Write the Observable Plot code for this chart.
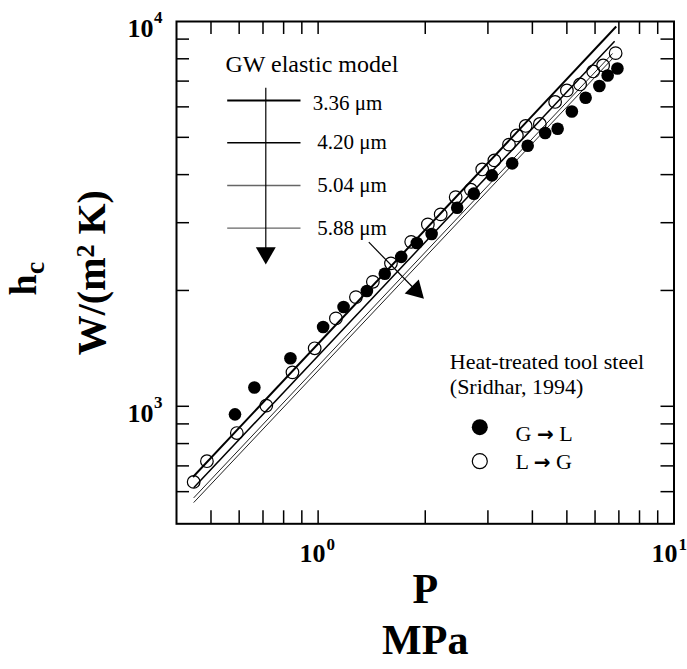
<!DOCTYPE html>
<html><head><meta charset="utf-8">
<script src="https://cdn.jsdelivr.net/npm/d3@7"></script>
<script src="https://cdn.jsdelivr.net/npm/@observablehq/plot@0.6"></script>
<style>body{margin:0;background:#fff} #chart svg{display:block}</style>
</head><body><div id="chart"></div>
<script>
// ---- data ----
const pressureOpen = [0.447,0.487,0.591,0.715,0.847,0.978,1.122,1.277,1.425,1.602,1.826,2.034,2.210,2.435,2.687,2.891,3.128,3.438,3.618,3.830,4.198,4.634,5.000,5.447,5.928,6.322,6.855];
const hcOpen = [636,720,852,1004,1225,1415,1692,1922,2106,2352,2675,2970,3153,3497,3655,4126,4355,4786,5057,5353,5418,6179,6620,6862,7417,7689,8275];
const pressureFilled = [0.584,0.662,0.836,1.033,1.179,1.371,1.539,1.712,1.894,2.084,2.459,2.739,3.078,3.510,3.880,4.345,4.710,5.164,5.645,6.170,6.510,6.934];
const hcFilled = [953,1119,1333,1607,1811,1993,2211,2445,2656,2803,3282,3569,3981,4278,4755,5133,5264,5837,6339,6800,7240,7550];
const modelRoughness = ["3.36 μm","4.20 μm","5.04 μm","5.88 μm"];
const modelPStart = [0.445,0.447,0.447,0.447];
const modelHStart = [655,614,578,562];
const modelPEnd = [6.88,6.81,6.72,6.72];
const modelHEnd = [9706,8889,8258,8014];
const xTickValues = [0.5,0.6,0.7,0.8,0.9,1,2,3,4,5,6,7,8,9];
const yTickValues = [600,700,800,900,1000,2000,3000,4000,5000,6000,7000,8000,9000];
const xLabelValues = [1,10];
const xLabelExp = ["0","1"];
const yLabelValues = [1000,10000];
const yLabelExp = ["3","4"];
const legendTitle = "GW elastic model";
const sourceText = ["Heat-treated tool steel","(Sridhar, 1994)"];
const seriesNames = ["G → L","L → G"];

// ---- layout / style ----
const W = 687, H = 669, mL = 176, mR = 13.5, mT = 21, mB = 145.7;
const innerW = W - mL - mR, innerH = H - mT - mB;
const xDomain = [0.4, 10], yDomain = [495, 10000];
const lineWidths = [2, 1.5, 1, 1];
const lineColors = ["#000","#000","#222","#222"];
const legendLineColors = ["#000","#000","#666","#666"];
const xLabelShift = [0, -4];
const serif = "'Liberation Serif','Times New Roman',serif";

// pixel -> data helpers for annotation placement
const sx = d3.scaleLog().domain(xDomain).range([mL, W - mR]);
const sy = d3.scaleLog().domain(yDomain).range([H - mB, mT]);
const X = v => sx.invert(v), Y = v => sy.invert(v);

const legendLineY = [100, 142.3, 185, 227.7];
const legendLabelX = [312.3, 316.7, 316.7, 316.7];
const legendLabelY = [102.6, 141.6, 185, 227.3];

const openData = pressureOpen.map((p,i)=>({p, h: hcOpen[i]}));
const filledData = pressureFilled.map((p,i)=>({p, h: hcFilled[i]}));

const xLabelMarks = xLabelValues.flatMap((v,i)=>[
  Plot.text([v], {x: d=>d, text: ()=>"10", frameAnchor: "bottom", textAnchor: "end", dx: 7.5 + xLabelShift[i], dy: 38.4, fontSize: 26, fontWeight: "bold"}),
  Plot.text([v], {x: d=>d, text: ()=>xLabelExp[i], frameAnchor: "bottom", textAnchor: "start", dx: 8.5 + xLabelShift[i], dy: 26.3, fontSize: 17, fontWeight: "bold"})
]);

const plot = Plot.plot({
  width: W, height: H,
  marginLeft: mL, marginRight: mR, marginTop: mT, marginBottom: mB,
  style: {fontFamily: serif, background: "white", color: "black", overflow: "hidden"},
  x: {type: "log", domain: xDomain, axis: null},
  y: {type: "log", domain: yDomain, axis: null},
  marks: [
    // inward ticks on four sides
    Plot.tickX(xTickValues, {x: d=>d, insetTop: innerH - 13, stroke: "black", strokeWidth: 1.5}),
    Plot.tickX(xTickValues, {x: d=>d, insetBottom: innerH - 13, stroke: "black", strokeWidth: 1.5}),
    Plot.tickY(yTickValues, {y: d=>d, insetRight: innerW - 13, stroke: "black", strokeWidth: 1.5}),
    Plot.tickY(yTickValues, {y: d=>d, insetLeft: innerW - 13, stroke: "black", strokeWidth: 1.5}),
    Plot.frame({stroke: "black", strokeWidth: 2}),
    // tick labels
    ...xLabelMarks,
    Plot.text(yLabelValues, {y: d=>d, text: ()=>"10", frameAnchor: "left", textAnchor: "end", dx: -23, dy: 7.2, fontSize: 26, fontWeight: "bold"}),
    Plot.text(yLabelValues, {y: d=>d, text: (d,i)=>yLabelExp[i], frameAnchor: "left", textAnchor: "start", dx: -22.5, dy: -4, fontSize: 17, fontWeight: "bold"}),
    // axis titles
    Plot.text(["P"], {text: d=>d, frameAnchor: "bottom", dy: 79, fontSize: 42, fontWeight: "bold"}),
    Plot.text(["MPa"], {text: d=>d, frameAnchor: "bottom", dy: 130, fontSize: 42, fontWeight: "bold"}),
    Plot.text(["hc"], {text: d=>d, frameAnchor: "left", rotate: -90, dx: -153, dy: 6, fontSize: 38, fontWeight: "bold", textAnchor: "middle"}),
    Plot.text(["W/(m2 K)"], {text: d=>d, frameAnchor: "left", rotate: -90, dx: -84, fontSize: 40, fontWeight: "bold", textAnchor: "middle"}),
    // model lines
    Plot.link(modelRoughness, {
      x1: (d,i)=>modelPStart[i], y1: (d,i)=>modelHStart[i],
      x2: (d,i)=>modelPEnd[i], y2: (d,i)=>modelHEnd[i],
      stroke: (d,i)=>lineColors[i], strokeWidth: (d,i)=>lineWidths[i]
    }),
    // data
    Plot.dot(openData, {x: "p", y: "h", r: 6.3, stroke: "black", strokeWidth: 1.2, fill: "none"}),
    Plot.dot(filledData, {x: "p", y: "h", r: 6.3, fill: "black", stroke: "none"}),
    // GW legend
    Plot.text([legendTitle], {text: d=>d, x: X(225), y: Y(64), textAnchor: "start", fontSize: 24}),
    Plot.link(modelRoughness, {
      x1: ()=>X(226.7), x2: ()=>X(300), y1: (d,i)=>Y(legendLineY[i]), y2: (d,i)=>Y(legendLineY[i]),
      stroke: (d,i)=>legendLineColors[i], strokeWidth: (d,i)=>Math.max(lineWidths[i],1.3)
    }),
    Plot.text(modelRoughness, {text: d=>d, x: (d,i)=>X(legendLabelX[i]), y: (d,i)=>Y(legendLabelY[i]), textAnchor: "start", fontSize: 21}),
    Plot.link([0], {x1: ()=>X(265.3), x2: ()=>X(265.3), y1: ()=>Y(87.3), y2: ()=>Y(250), stroke: "black", strokeWidth: 1.2}),
    Plot.dot([0], {x: ()=>X(265.3), y: ()=>Y(252.5), symbol: "triangle", r: 7.4, rotate: 180, fill: "black", stroke: "none"}),
    Plot.link([0], {x1: ()=>X(368.3), x2: ()=>X(413), y1: ()=>Y(241.7), y2: ()=>Y(287.5), stroke: "black", strokeWidth: 1.2}),
    Plot.dot([0], {x: ()=>X(415.3), y: ()=>Y(290.1), symbol: "triangle", r: 7.4, rotate: 135, fill: "black", stroke: "none"}),
    // source legend
    Plot.text(sourceText, {text: d=>d, x: ()=>X(449.3), y: (d,i)=>Y([361.3, 386.3][i]), textAnchor: "start", fontSize: 22}),
    Plot.dot([0], {x: ()=>X(479.3), y: ()=>Y(426.7), r: 8, fill: "black", stroke: "none"}),
    Plot.dot([0], {x: ()=>X(479.3), y: ()=>Y(460.7), r: 7.5, fill: "none", stroke: "black", strokeWidth: 1.2}),
    Plot.text(seriesNames, {text: d=>d, x: ()=>X(515), y: (d,i)=>Y([433, 461.3][i]), textAnchor: "start", fontSize: 22})
  ]
});

// rich text: subscripts / superscripts
d3.select(plot).selectAll("text").each(function() {
  const t = d3.select(this);
  const s = this.textContent;
  if (s === "hc") {
    t.text("").attr("text-anchor", "middle");
    t.append("tspan").text("h");
    t.append("tspan").attr("font-size", 28).attr("dy", "0.3em").text("c");
  } else if (s === "W/(m2 K)") {
    t.text("").attr("text-anchor", "middle");
    t.append("tspan").text("W/(m");
    t.append("tspan").attr("font-size", 26).attr("dy", "-0.42em").text("2");
    t.append("tspan").attr("dy", "0.27em").text(" K)");
  } else if (s === "G → L" || s === "L → G") {
    const a = s[0], b = s[4];
    t.text("");
    t.append("tspan").text(a + " ");
    t.append("tspan").attr("font-weight", "bold").attr("font-family", "'DejaVu Sans',sans-serif").attr("font-size", 20).text("→");
    t.append("tspan").text(" " + b);
  }
});

document.getElementById("chart").appendChild(plot);
</script>
</body></html>
